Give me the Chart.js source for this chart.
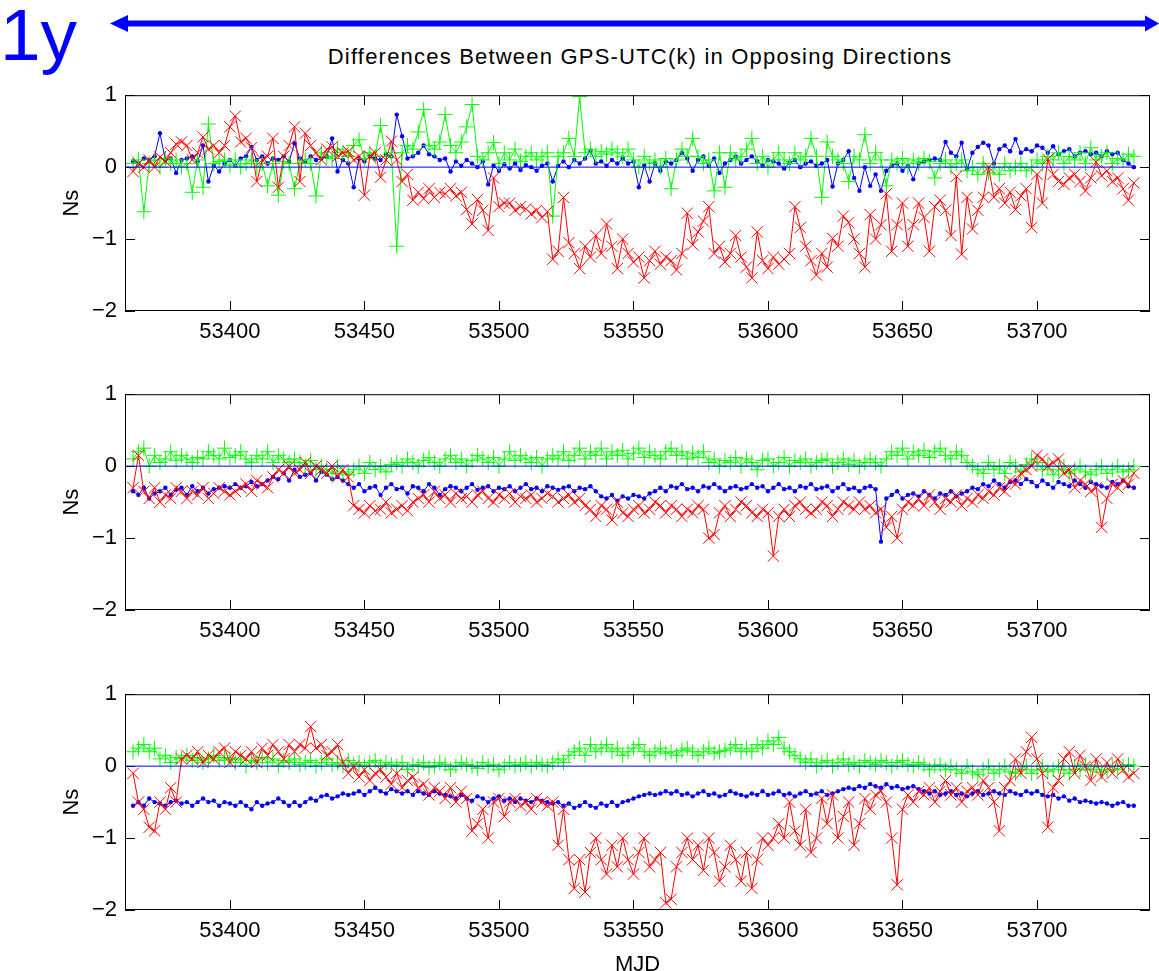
<!DOCTYPE html>
<html>
<head>
<meta charset="utf-8">
<script src="https://cdn.jsdelivr.net/npm/chart.js@4.4.1/dist/chart.umd.min.js"></script>
<style>
  html, body { margin: 0; padding: 0; background: #fff; overflow: hidden; }
  #page { position: relative; width: 1159px; height: 971px; overflow: hidden; background: #fff;
          font-family: 'Liberation Sans', Arial, Helvetica, sans-serif; }
  #oneYear { position: absolute; left: 0; top: -1px; font-size: 73px; line-height: 72px; color: #0000ff; }
  #span { position: absolute; left: 0; top: 0; }
  #title { position: absolute; left: 140px; width: 1000px; top: 46px; text-align: center;
           font-size: 22px; line-height: 22px; letter-spacing: 1.2px; color: #000; white-space: nowrap; }
  canvas { position: absolute; left: 0; }
</style>
</head>
<body>
<div id="page">
  <div id="oneYear">1y</div>
  <svg id="span" width="1159" height="40">
    <line x1="124" y1="23.5" x2="1146" y2="23.5" stroke="#0000ff" stroke-width="6"/>
    <polygon points="110,23.5 128,15 128,32" fill="#0000ff"/>
    <polygon points="1159,23.5 1145,15.5 1145,31.5" fill="#0000ff"/>
  </svg>
  <div id="title">Differences Between GPS-UTC(k) in Opposing Directions</div>
  <canvas id="topChart" width="1159" height="297" style="top:74px"></canvas>
  <canvas id="midChart" width="1159" height="297" style="top:373px"></canvas>
  <canvas id="botChart" width="1159" height="312" style="top:673px"></canvas>
</div>
<script>
// sample days (MJD), every second day
const mjd = [53364,53366,53368,53370,53372,53374,53376,53378,53380,53382,
  53384,53386,53388,53390,53392,53394,53396,53398,53400,53402,
  53404,53406,53408,53410,53412,53414,53416,53418,53420,53422,
  53424,53426,53428,53430,53432,53434,53436,53438,53440,53442,
  53444,53446,53448,53450,53452,53454,53456,53458,53460,53462,
  53464,53466,53468,53470,53472,53474,53476,53478,53480,53482,
  53484,53486,53488,53490,53492,53494,53496,53498,53500,53502,
  53504,53506,53508,53510,53512,53514,53516,53518,53520,53522,
  53524,53526,53528,53530,53532,53534,53536,53538,53540,53542,
  53544,53546,53548,53550,53552,53554,53556,53558,53560,53562,
  53564,53566,53568,53570,53572,53574,53576,53578,53580,53582,
  53584,53586,53588,53590,53592,53594,53596,53598,53600,53602,
  53604,53606,53608,53610,53612,53614,53616,53618,53620,53622,
  53624,53626,53628,53630,53632,53634,53636,53638,53640,53642,
  53644,53646,53648,53650,53652,53654,53656,53658,53660,53662,
  53664,53666,53668,53670,53672,53674,53676,53678,53680,53682,
  53684,53686,53688,53690,53692,53694,53696,53698,53700,53702,
  53704,53706,53708,53710,53712,53714,53716,53718,53720,53722,
  53724,53726,53728,53730,53732,53734,53736];

// top panel
const topBlue = [0.08,0.05,0.12,0.1,0.15,0.47,0.1,0.12,-0.08,0.1,
  0.12,0.15,0.08,0.3,-0.2,0.02,-0.06,0.05,0.1,0.02,
  0.12,0.15,0.28,0.1,0.15,0.05,0.12,0.1,0.15,0.08,
  0.33,0.12,0.08,0.15,0.1,0.12,0.15,0.4,-0.06,0.1,
  0.05,-0.28,0.12,0.08,0.15,0.12,0.1,0.18,0.15,0.73,
  0.43,0.12,0.15,0.2,0.3,0.18,0.15,0.1,0.12,-0.06,
  0.08,0.02,0.1,0.05,0.0,0.08,-0.24,0.02,-0.05,0.04,
  -0.02,0.05,-0.04,0.03,0.0,-0.05,0.02,0.05,-0.2,0.02,
  0.08,0.0,0.1,0.05,0.12,0.23,0.05,0.08,0.02,0.1,
  0.05,0.12,0.05,0.08,-0.28,0.02,-0.2,0.05,-0.05,0.08,
  0.05,0.1,0.2,0.12,-0.05,0.1,0.15,0.02,0.12,-0.08,
  0.05,0.1,0.15,0.05,0.1,0.15,0.08,0.02,0.1,0.08,
  0.05,-0.02,0.06,0.1,0.0,0.05,0.08,0.02,0.05,0.1,
  -0.27,0.05,0.1,0.22,-0.15,-0.33,0.0,-0.26,-0.1,-0.33,
  -0.05,0.02,0.05,-0.05,0.02,-0.17,0.05,0.08,0.1,0.12,
  0.1,0.35,0.2,0.15,0.34,-0.03,0.2,0.28,0.34,0.3,
  0.05,0.25,0.3,0.22,0.39,0.2,0.25,0.22,0.3,0.27,
  0.2,0.29,0.18,0.22,0.25,0.15,0.2,0.22,0.18,0.2,
  0.15,0.22,0.18,0.2,0.1,0.05,0.0];
const topGreen = [0.05,0.1,-0.62,0.05,0.1,0.0,0.12,0.05,0.1,0.0,
  0.05,-0.35,0.1,-0.28,0.6,0.05,0.08,0.1,0.02,0.1,
  0.0,0.05,0.1,0.0,0.05,-0.26,0.05,-0.39,0.08,0.05,
  -0.3,0.05,0.1,0.05,-0.4,0.2,0.15,0.12,0.25,0.2,
  0.15,0.3,0.38,0.12,0.2,0.15,0.58,0.15,0.2,-1.1,
  0.2,0.3,0.25,0.49,0.8,0.3,0.25,0.35,0.73,0.3,
  0.2,0.35,0.56,0.87,0.15,0.1,0.2,0.34,0.05,0.2,
  0.1,0.25,0.08,0.15,0.2,0.1,0.15,0.2,-0.68,0.15,
  0.2,0.4,0.15,0.98,0.2,0.25,0.15,0.22,0.18,0.25,
  0.2,0.15,0.25,0.1,0.0,0.15,0.05,0.1,0.0,0.12,
  -0.3,0.1,0.25,0.15,0.4,0.15,0.05,0.1,-0.33,0.2,
  -0.28,0.2,0.1,0.15,0.25,0.4,0.05,0.15,0.0,0.1,
  0.2,0.1,0.05,0.2,0.1,0.15,0.4,0.15,-0.42,0.35,
  0.15,0.1,0.05,-0.2,0.15,0.1,0.45,0.05,0.2,0.1,
  -0.26,0.1,0.05,0.12,0.0,0.1,0.05,0.12,0.08,-0.15,
  0.05,0.1,0.0,0.05,0.1,-0.05,0.0,-0.1,0.05,-0.08,
  0.0,-0.1,0.05,-0.05,0.0,0.05,-0.05,0.0,0.1,0.05,
  0.15,0.1,0.2,0.05,0.15,0.1,0.2,0.05,0.27,0.1,
  0.15,0.2,0.05,0.12,0.1,0.18,0.15];
const topRed = [-0.06,0.05,0.0,0.1,0.0,0.14,0.08,0.2,0.32,0.35,
  0.3,0.1,0.2,0.42,0.25,0.3,0.2,0.3,0.56,0.71,
  0.35,0.4,0.27,-0.2,0.1,0.15,0.4,-0.28,0.15,0.3,
  0.56,-0.2,0.47,0.3,0.2,0.1,0.25,0.28,0.15,0.2,
  0.22,0.1,0.15,-0.39,0.15,0.2,-0.14,0.1,0.36,0.1,
  -0.2,-0.1,-0.46,-0.35,-0.44,-0.3,-0.42,-0.35,-0.37,-0.3,
  -0.4,-0.35,-0.59,-0.79,-0.45,-0.6,-0.88,-0.15,-0.55,-0.5,
  -0.5,-0.6,-0.55,-0.58,-0.65,-0.6,-0.7,-0.62,-1.28,-1.17,
  -0.42,-1.05,-1.2,-1.41,-1.1,-1.25,-0.95,-1.2,-0.79,-1.1,
  -1.41,-1.0,-1.2,-1.32,-1.25,-1.54,-1.3,-1.17,-1.35,-1.25,
  -1.3,-1.43,-1.2,-0.64,-1.08,-0.9,-0.75,-0.55,-1.2,-1.1,
  -1.32,-1.2,-0.95,-1.25,-1.39,-1.54,-0.9,-1.3,-1.41,-1.25,
  -1.35,-1.28,-1.2,-0.55,-0.84,-1.1,-1.3,-1.5,-1.2,-1.39,
  -0.99,-1.1,-0.68,-0.77,-1.0,-1.2,-1.39,-0.66,-1.0,-0.8,
  -0.37,-1.17,-0.8,-0.5,-1.1,-0.8,-0.5,-0.7,-1.17,-0.55,
  -0.46,-0.6,-0.95,-0.13,-1.21,-0.42,-0.86,-0.6,-0.42,0.0,
  -0.42,-0.3,-0.5,-0.35,-0.59,-0.4,-0.3,-0.84,-0.1,-0.5,
  0.11,-0.1,-0.2,-0.24,-0.15,-0.1,-0.2,-0.33,-0.15,0.07,
  -0.12,-0.05,-0.2,-0.15,-0.3,-0.46,-0.22];

// middle panel
const midBlue = [-0.35,-0.4,-0.3,-0.45,-0.38,-0.35,-0.3,-0.4,-0.33,-0.3,
  -0.4,-0.28,-0.35,-0.3,-0.38,-0.32,-0.3,-0.28,-0.3,-0.25,
  -0.3,-0.28,-0.22,-0.28,-0.25,-0.2,-0.15,-0.18,-0.1,-0.2,
  -0.05,-0.15,-0.12,-0.1,-0.2,-0.08,-0.12,-0.18,-0.15,-0.2,
  -0.25,-0.3,-0.25,-0.35,-0.3,-0.28,-0.4,-0.3,-0.25,-0.32,
  -0.3,-0.38,-0.28,-0.3,-0.35,-0.25,-0.3,-0.4,-0.32,-0.28,
  -0.3,-0.35,-0.3,-0.25,-0.33,-0.3,-0.28,-0.35,-0.3,-0.32,
  -0.28,-0.35,-0.3,-0.25,-0.32,-0.3,-0.35,-0.28,-0.3,-0.33,
  -0.3,-0.28,-0.35,-0.3,-0.32,-0.28,-0.35,-0.42,-0.45,-0.4,
  -0.48,-0.42,-0.45,-0.4,-0.42,-0.45,-0.38,-0.35,-0.3,-0.35,
  -0.28,-0.3,-0.25,-0.32,-0.3,-0.35,-0.28,-0.3,-0.25,-0.3,
  -0.35,-0.3,-0.28,-0.32,-0.3,-0.25,-0.3,-0.28,-0.35,-0.3,
  -0.25,-0.32,-0.3,-0.35,-0.28,-0.3,-0.25,-0.32,-0.3,-0.28,
  -0.35,-0.3,-0.25,-0.32,-0.3,-0.35,-0.3,-0.28,-0.32,-1.05,
  -0.45,-0.4,-0.35,-0.45,-0.4,-0.38,-0.42,-0.35,-0.4,-0.45,
  -0.38,-0.4,-0.35,-0.42,-0.38,-0.35,-0.3,-0.32,-0.25,-0.28,
  -0.2,-0.25,-0.3,-0.22,-0.2,-0.25,-0.18,-0.22,-0.28,-0.2,
  -0.25,-0.3,-0.22,-0.25,-0.28,-0.2,-0.25,-0.3,-0.22,-0.25,
  -0.28,-0.3,-0.22,-0.25,-0.2,-0.28,-0.3];
const midGreen = [0.1,0.2,0.25,0.0,0.15,0.05,0.1,0.2,0.08,0.15,
  0.1,0.05,0.12,0.1,0.2,0.15,0.1,0.25,0.12,0.15,
  0.2,0.1,0.05,0.15,0.1,0.2,0.05,0.15,0.1,0.05,
  0.1,0.05,0.0,0.08,-0.05,0.0,-0.05,-0.1,0.0,-0.08,
  -0.12,-0.05,0.0,-0.1,0.05,-0.05,0.0,-0.08,0.02,0.05,
  0.0,0.1,0.05,0.0,0.08,0.12,0.05,0.0,0.1,0.15,
  0.05,0.1,0.0,0.08,0.15,0.1,0.05,0.12,0.0,0.1,
  0.2,0.08,0.15,0.1,0.05,0.12,0.0,0.1,0.15,0.1,
  0.2,0.08,0.15,0.25,0.1,0.2,0.15,0.25,0.1,0.2,
  0.15,0.22,0.1,0.18,0.25,0.12,0.2,0.15,0.1,0.2,
  0.25,0.15,0.2,0.1,0.18,0.12,0.2,0.05,0.1,0.0,
  0.08,0.05,0.12,0.0,0.1,0.05,-0.05,0.08,0.1,0.0,
  0.05,0.12,0.0,0.08,0.05,0.1,0.0,0.05,0.08,0.1,
  0.0,0.05,0.1,0.02,0.08,0.0,0.05,0.1,0.05,0.0,
  0.1,0.2,0.15,0.25,0.1,0.2,0.15,0.22,0.12,0.2,
  0.25,0.15,0.1,0.2,0.15,0.05,0.0,-0.05,-0.1,0.05,
  -0.05,0.0,-0.1,0.05,0.0,-0.08,0.02,0.1,0.05,-0.05,
  0.0,-0.12,-0.05,0.0,-0.1,-0.05,0.0,-0.08,-0.12,-0.05,
  0.0,-0.1,-0.05,0.0,-0.08,-0.05,0.0];
const midRed = [-0.3,0.15,-0.35,-0.45,-0.3,-0.5,-0.4,-0.45,-0.3,-0.35,
  -0.45,-0.35,-0.4,-0.3,-0.45,-0.38,-0.3,-0.35,-0.4,-0.35,
  -0.3,-0.25,-0.35,-0.2,-0.25,-0.3,-0.15,-0.05,-0.1,0.0,
  -0.1,-0.05,0.05,-0.1,0.0,-0.05,-0.1,0.0,-0.15,-0.05,
  -0.15,-0.55,-0.6,-0.65,-0.55,-0.62,-0.6,-0.5,-0.65,-0.6,
  -0.55,-0.62,-0.5,-0.45,-0.4,-0.5,-0.35,-0.45,-0.4,-0.5,
  -0.38,-0.45,-0.42,-0.5,-0.4,-0.35,-0.45,-0.5,-0.4,-0.45,
  -0.38,-0.5,-0.42,-0.45,-0.4,-0.5,-0.45,-0.38,-0.42,-0.5,
  -0.45,-0.4,-0.5,-0.45,-0.55,-0.6,-0.7,-0.55,-0.6,-0.75,
  -0.5,-0.65,-0.7,-0.6,-0.55,-0.65,-0.6,-0.5,-0.55,-0.65,
  -0.55,-0.6,-0.7,-0.6,-0.65,-0.55,-0.6,-1.0,-0.95,-0.65,
  -0.55,-0.7,-0.6,-0.5,-0.55,-0.65,-0.7,-0.6,-0.65,-1.25,
  -0.7,-0.6,-0.7,-0.55,-0.5,-0.6,-0.65,-0.6,-0.5,-0.55,
  -0.7,-0.6,-0.5,-0.55,-0.6,-0.5,-0.6,-0.55,-0.65,-0.6,
  -0.85,-0.7,-1.0,-0.6,-0.5,-0.55,-0.45,-0.55,-0.4,-0.5,
  -0.6,-0.45,-0.5,-0.4,-0.55,-0.45,-0.5,-0.4,-0.45,-0.35,
  -0.4,-0.3,-0.35,-0.2,-0.25,-0.1,-0.05,0.0,0.15,0.1,
  0.0,0.05,0.1,-0.1,-0.05,-0.3,-0.2,-0.25,-0.35,-0.3,
  -0.85,-0.45,-0.25,-0.3,-0.2,-0.25,-0.1];

// bottom panel
const botBlue = [-0.55,-0.5,-0.55,-0.45,-0.5,-0.52,-0.55,-0.5,-0.48,-0.52,
  -0.5,-0.55,-0.5,-0.45,-0.5,-0.48,-0.55,-0.5,-0.52,-0.55,
  -0.5,-0.55,-0.6,-0.5,-0.55,-0.52,-0.5,-0.45,-0.5,-0.55,
  -0.5,-0.55,-0.5,-0.45,-0.48,-0.42,-0.4,-0.45,-0.42,-0.38,
  -0.4,-0.38,-0.35,-0.4,-0.35,-0.3,-0.35,-0.38,-0.32,-0.35,
  -0.38,-0.35,-0.4,-0.35,-0.38,-0.4,-0.35,-0.38,-0.4,-0.42,
  -0.45,-0.4,-0.45,-0.48,-0.42,-0.45,-0.5,-0.45,-0.42,-0.48,
  -0.45,-0.5,-0.45,-0.48,-0.5,-0.45,-0.48,-0.5,-0.52,-0.5,
  -0.55,-0.52,-0.58,-0.55,-0.5,-0.55,-0.58,-0.52,-0.55,-0.5,
  -0.55,-0.5,-0.48,-0.45,-0.42,-0.4,-0.38,-0.4,-0.38,-0.35,
  -0.38,-0.35,-0.4,-0.38,-0.42,-0.38,-0.35,-0.4,-0.38,-0.42,
  -0.4,-0.35,-0.38,-0.4,-0.42,-0.38,-0.4,-0.35,-0.4,-0.38,
  -0.35,-0.4,-0.38,-0.42,-0.38,-0.35,-0.4,-0.38,-0.35,-0.4,
  -0.38,-0.35,-0.32,-0.3,-0.32,-0.28,-0.3,-0.25,-0.28,-0.3,
  -0.25,-0.3,-0.28,-0.32,-0.3,-0.28,-0.32,-0.35,-0.38,-0.35,
  -0.4,-0.38,-0.35,-0.4,-0.38,-0.42,-0.38,-0.35,-0.4,-0.38,
  -0.35,-0.38,-0.4,-0.35,-0.38,-0.4,-0.35,-0.38,-0.35,-0.4,
  -0.42,-0.4,-0.45,-0.42,-0.48,-0.45,-0.5,-0.48,-0.5,-0.52,
  -0.5,-0.52,-0.55,-0.52,-0.5,-0.55,-0.55];
const botGreen = [0.2,0.25,0.3,0.2,0.25,0.1,0.15,0.05,0.12,0.1,
  0.15,0.08,0.12,0.05,0.1,0.15,0.08,0.12,0.1,0.05,
  0.1,0.0,0.08,0.05,0.12,0.05,0.1,0.0,0.08,0.05,
  0.1,0.02,0.05,0.08,0.0,0.05,0.1,0.02,0.05,0.0,
  0.08,0.02,0.05,0.0,0.05,0.08,0.0,0.05,0.02,0.0,
  0.05,-0.05,0.02,0.0,0.05,-0.02,0.0,0.05,0.02,-0.05,
  0.0,0.05,0.02,0.0,-0.03,0.05,0.0,0.02,-0.05,0.0,
  0.05,0.0,0.02,0.05,0.0,0.05,0.02,0.0,0.05,0.1,
  0.05,0.15,0.2,0.25,0.15,0.3,0.2,0.25,0.3,0.2,
  0.25,0.15,0.2,0.25,0.3,0.2,0.15,0.2,0.25,0.18,
  0.2,0.15,0.22,0.25,0.2,0.15,0.2,0.25,0.18,0.2,
  0.22,0.25,0.3,0.2,0.25,0.2,0.3,0.25,0.35,0.3,
  0.4,0.25,0.2,0.15,0.1,0.05,0.1,0.0,0.05,0.08,
  0.0,0.05,0.1,0.02,0.05,0.0,0.08,0.05,0.02,0.08,
  0.05,0.0,0.05,0.08,0.02,0.0,0.05,0.02,-0.05,0.0,
  0.02,-0.05,0.0,-0.05,-0.1,0.0,-0.08,-0.12,-0.05,0.0,
  -0.1,-0.05,0.0,-0.08,-0.1,-0.05,0.0,-0.1,-0.05,0.0,
  -0.08,-0.05,0.0,-0.05,-0.1,0.0,-0.05,0.02,-0.05,0.0,
  -0.08,-0.05,0.0,-0.05,0.0,0.02,0.0];
const botRed = [-0.1,-0.5,-0.6,-0.85,-0.9,-0.5,-0.6,-0.3,-0.5,0.1,
  0.15,0.1,0.2,0.05,0.15,0.1,0.2,0.25,0.05,0.2,
  0.15,0.1,0.2,0.05,0.25,0.15,0.3,0.2,0.1,0.3,
  0.2,0.3,0.25,0.55,0.25,0.3,0.15,0.2,0.3,0.05,
  -0.1,0.0,-0.15,-0.05,-0.2,-0.1,-0.05,-0.15,-0.25,-0.1,
  -0.3,-0.2,-0.15,-0.3,-0.25,-0.4,-0.3,-0.35,-0.45,-0.3,
  -0.5,-0.35,-0.45,-0.9,-0.8,-0.6,-1.0,-0.5,-0.45,-0.7,
  -0.5,-0.45,-0.55,-0.5,-0.6,-0.45,-0.5,-0.55,-0.5,-1.1,
  -0.6,-1.3,-1.7,-1.3,-1.75,-1.2,-1.0,-1.3,-1.5,-1.1,
  -1.4,-1.0,-1.3,-1.5,-1.2,-1.0,-1.4,-1.3,-1.2,-1.9,
  -1.85,-1.4,-1.2,-1.0,-1.3,-1.1,-1.45,-1.0,-1.2,-1.6,
  -1.4,-1.1,-1.3,-1.6,-1.2,-1.7,-1.3,-1.0,-1.1,-1.0,
  -0.8,-1.0,-0.5,-0.9,-1.1,-0.6,-1.2,-1.0,-0.45,-0.8,
  -0.4,-1.0,-0.7,-0.5,-1.1,-0.8,-0.45,-0.6,-0.4,-0.35,
  -0.5,-1.0,-1.65,-0.6,-0.4,-0.5,-0.35,-0.4,-0.3,-0.5,
  -0.35,-0.2,-0.4,-0.3,-0.5,-0.35,-0.3,-0.4,-0.2,-0.3,
  -0.5,-0.9,-0.3,-0.2,0.1,-0.1,0.2,0.4,0.1,-0.1,
  -0.85,-0.3,-0.2,0.1,0.2,-0.1,0.15,0.0,-0.2,0.1,
  -0.15,0.05,-0.1,0.1,-0.05,-0.15,-0.1];

const xTicks = [53400, 53450, 53500, 53550, 53600, 53650, 53700];
const yTicks = [-2, -1, 0, 1];
const xMin = 53361, xMax = 53742;

const FONT = "'Liberation Sans', Arial, Helvetica, sans-serif";

// matlab style box with inward ticks
const boxPlugin = {
  id: 'matlabBox',
  beforeDatasetsDraw(chart) {
    const {ctx, chartArea: a, scales: {x, y}} = chart;
    ctx.save();
    ctx.strokeStyle = '#000';
    ctx.lineWidth = 1;
    ctx.beginPath();
    xTicks.forEach(v => {
      const px = Math.round(x.getPixelForValue(v)) + 0.5;
      ctx.moveTo(px, a.bottom); ctx.lineTo(px, a.bottom - 10);
      ctx.moveTo(px, a.top); ctx.lineTo(px, a.top + 10);
    });
    yTicks.forEach(v => {
      const py = Math.round(y.getPixelForValue(v)) + 0.5;
      ctx.moveTo(a.left, py); ctx.lineTo(a.left + 10, py);
      ctx.moveTo(a.right, py); ctx.lineTo(a.right - 10, py);
    });
    ctx.stroke();
    ctx.restore();
  },
  afterDatasetsDraw(chart) {
    const {ctx, chartArea: a} = chart;
    ctx.save();
    ctx.strokeStyle = '#000';
    ctx.lineWidth = 1;
    ctx.strokeRect(a.left + 0.5, a.top + 0.5, a.right - a.left - 1, a.bottom - a.top - 1);
    ctx.restore();
  }
};

function makePanel(id, blue, green, red, xHeight, showMJD) {
  const pts = vals => mjd.map((m, i) => ({x: m, y: vals[i]}));
  return new Chart(document.getElementById(id), {
    type: 'line',
    data: {
      datasets: [
        {data: [{x: xMin, y: 0}, {x: mjd[mjd.length - 1], y: 0}],
         borderColor: '#0000ff', borderWidth: 1, pointRadius: 0, order: 0},
        {data: pts(red), borderColor: '#ff0000', borderWidth: 1,
         pointStyle: 'crossRot', pointRadius: 8, pointBorderColor: '#ff0000', pointBorderWidth: 1, order: 1},
        {data: pts(green), borderColor: '#00ff00', borderWidth: 1,
         pointStyle: 'cross', pointRadius: 7.5, pointBorderColor: '#00ff00', pointBorderWidth: 1, order: 2},
        {data: pts(blue), borderColor: '#0000ff', borderWidth: 1,
         pointStyle: 'circle', pointRadius: 2.2, pointBackgroundColor: '#0000ff', pointBorderColor: '#0000ff', pointBorderWidth: 0, order: 3}
      ]
    },
    options: {
      responsive: false,
      animation: false,
      events: [],
      layout: {padding: {top: 10, right: 2, left: 0, bottom: 0}},
      elements: {line: {tension: 0}},
      plugins: {legend: {display: false}, tooltip: {enabled: false}},
      scales: {
        x: {
          type: 'linear', min: xMin, max: xMax,
          grid: {display: false, drawTicks: false},
          border: {display: false},
          afterBuildTicks: s => { s.ticks = xTicks.map(v => ({value: v})); },
          afterFit: s => { s.height = xHeight; },
          ticks: {padding: 8, color: '#000', autoSkip: false, maxRotation: 0,
                  font: {family: FONT, size: 22}, callback: v => String(v)},
          title: {display: showMJD, text: 'MJD', color: '#000', padding: {top: 0, bottom: 7},
                  font: {family: FONT, size: 22}}
        },
        y: {
          min: -2, max: 1,
          grid: {display: false, drawTicks: false},
          border: {display: false},
          afterBuildTicks: s => { s.ticks = yTicks.map(v => ({value: v})); },
          afterFit: s => { s.width = 125; },
          ticks: {padding: 8, color: '#000', font: {family: FONT, size: 22},
                  callback: v => v < 0 ? '\u2212' + Math.abs(v) : String(v)},
          title: {display: true, text: 'Ns', color: '#000', padding: {top: 59, bottom: 0},
                  font: {family: FONT, size: 22}}
        }
      }
    },
    plugins: [boxPlugin]
  });
}

makePanel('topChart', topBlue, topGreen, topRed, 60, false);
makePanel('midChart', midBlue, midGreen, midRed, 60, false);
makePanel('botChart', botBlue, botGreen, botRed, 75, true);
</script>
</body>
</html>
